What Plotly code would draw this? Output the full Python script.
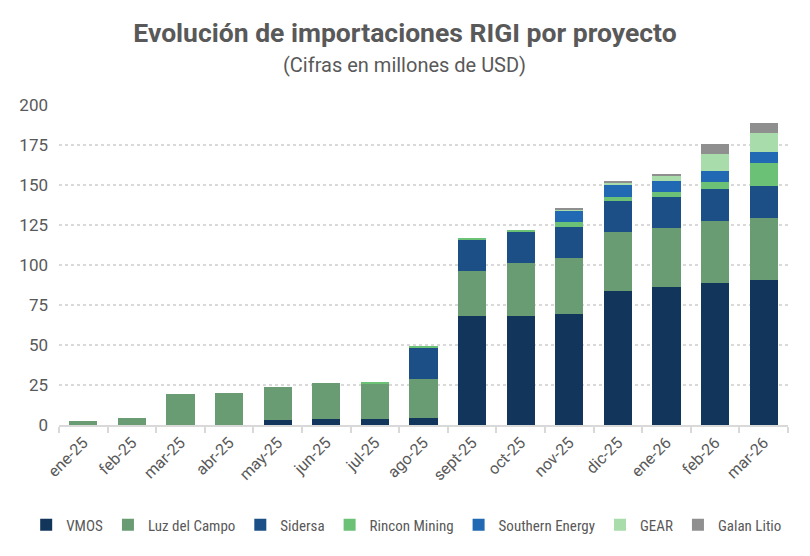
import plotly.graph_objects as go

months = ["ene-25", "feb-25", "mar-25", "abr-25", "may-25", "jun-25", "jul-25", "ago-25",
          "sept-25", "oct-25", "nov-25", "dic-25", "ene-26", "feb-26", "mar-26"]

vmos = [0, 0, 0, 0, 2.9, 3.5, 3.5, 4.2, 68.0, 68.0, 69.2, 83.6, 86.1, 88.6, 90.4]
luz_del_campo = [2.5, 4.3, 19.2, 19.8, 20.9, 22.5, 22.5, 24.3, 28.0, 33.0, 35.0, 36.8, 36.8, 38.6, 38.7]
sidersa = [0, 0, 0, 0, 0, 0, 0, 20.0, 20.0, 20.0, 19.3, 19.3, 19.3, 20.0, 20.0]
rincon_mining = [0, 0, 0, 0, 0, 0, 0.6, 0.6, 1.0, 0.6, 3.1, 3.1, 3.7, 4.4, 14.9]
southern_energy = [0, 0, 0, 0, 0, 0, 0, 0, 0, 0, 7.5, 7.5, 6.9, 7.4, 6.9]
gear = [0, 0, 0, 0, 0, 0, 0, 0, 0, 0, 0.6, 1.3, 3.1, 10.6, 11.8]
galan_litio = [0, 0, 0, 0, 0, 0, 0, 0, 0, 0, 0.6, 0.6, 0.6, 6.3, 6.3]

series = [
    ("VMOS", vmos, "#12355b"),
    ("Luz del Campo", luz_del_campo, "#6a9c74"),
    ("Sidersa", sidersa, "#1b4f86"),
    ("Rincon Mining", rincon_mining, "#6bc277"),
    ("Southern Energy", southern_energy, "#2169b3"),
    ("GEAR", gear, "#a8dcab"),
    ("Galan Litio", galan_litio, "#8f8f8f"),
]

fig = go.Figure()
for name, values, color in series:
    fig.add_trace(go.Bar(x=months, y=values, name=name, marker_color=color,
                         marker_line_width=0))

grey = "#595959"
# page body adds an 8px margin, so the figure is a bit smaller than the window
fig.update_layout(
    barmode="stack",
    bargap=0.42,
    width=802, height=548,
    margin=dict(l=51, r=22, t=97, b=131, autoexpand=False),
    paper_bgcolor="white", plot_bgcolor="white",
    font=dict(family="Roboto", color=grey),
    title=dict(
        text="<b>Evolución de importaciones RIGI por proyecto</b>",
        x=0.495, xanchor="center", y=0.955, yanchor="middle",
        font=dict(size=26.5, color=grey, family="Roboto"),
    ),
    # x just left of the plot so the legend may use the left margin and stay on one row
    legend=dict(orientation="h", x=-0.045, xanchor="left",
                y=-0.3125, yanchor="middle",
                font=dict(size=15, color=grey, family="Roboto Condensed, Roboto"),
                itemwidth=30, traceorder="normal"),
    showlegend=True,
)
fig.add_annotation(text="(Cifras en millones de USD)", xref="paper", yref="paper",
                   x=0.4746, y=1.125, xanchor="center", yanchor="middle", showarrow=False,
                   font=dict(size=20, color=grey, family="Roboto"))
fig.update_yaxes(range=[0, 200], dtick=25, showgrid=True, gridcolor="#d9d9d9",
                 griddash="dot", gridwidth=1.5, zeroline=False,
                 tickfont=dict(size=17, color=grey), ticks="", ticklabelstandoff=10)
fig.update_xaxes(showline=True, linecolor="#d9d9d9", linewidth=2,
                 ticks="outside", tickson="boundaries", tickcolor="#d9d9d9",
                 ticklen=6, tickwidth=2, tickangle=-45,
                 tickfont=dict(size=16, color=grey))

fig.write_html("out.html")
